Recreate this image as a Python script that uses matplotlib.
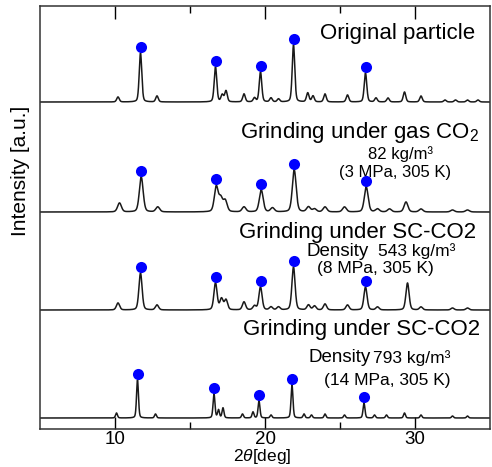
import numpy as np
import matplotlib
matplotlib.use("Agg")
import matplotlib.pyplot as plt

plt.rcParams['font.family'] = ['Liberation Sans', 'DejaVu Sans']
plt.rcParams['mathtext.fontset'] = 'custom'
plt.rcParams['mathtext.rm'] = 'Liberation Sans'
plt.rcParams['mathtext.it'] = 'Liberation Sans:italic'

# ---- data (peak tables; y in arbitrary units) ----
orig_pos = [10.2, 11.7, 12.8, 16.7, 17.15, 17.4, 18.6, 19.3, 19.7, 20.4, 20.9, 21.9, 22.85, 23.2,
            24.0, 25.5, 26.7, 27.4, 28.2, 29.3, 30.4, 32.0, 32.7, 33.5, 34.2]
orig_h = [5, 49, 6, 35, 7, 11, 8, 4, 30, 4, 3, 57, 9, 6, 8, 7, 29, 4, 4, 10, 6, 2, 2, 2, 2]
orig_base = 327
orig_w = 0.2

gas_pos = [10.3, 11.75, 12.85, 16.75, 17.05, 17.35, 18.6, 19.75, 20.5, 21.95, 22.9, 23.3, 24.0,
           25.3, 26.75, 27.5, 28.3, 29.4, 30.4, 32.5, 33.5]
gas_h = [9, 35, 5, 25, 13, 11, 5, 22, 4, 42, 5, 3, 5, 5, 25, 3, 3, 10, 3, 2, 2]
gas_base = 217
gas_w = 0.3

sc8_pos = [10.2, 11.7, 12.8, 16.7, 17.1, 17.4, 18.6, 19.3, 19.7, 20.4, 20.9, 21.9, 22.9, 23.3,
           24.0, 25.5, 26.7, 27.5, 29.5, 30.4, 32.5, 33.5]
sc8_h = [7, 37, 5, 27, 11, 10, 8, 4, 23, 3, 3, 43, 5, 4, 6, 5, 23, 3, 27, 3, 2, 2]
sc8_base = 119
sc8_w = 0.25

sc14_pos = [10.1, 11.5, 12.7, 16.6, 16.9, 17.2, 18.5, 19.2, 19.6, 20.4, 21.8, 22.6, 23.1, 24.0,
            25.3, 26.6, 27.3, 28.1, 29.3, 30.4, 32.5, 33.5]
sc14_h = [5, 38, 4, 24, 8, 10, 4, 6, 17, 3, 33, 4, 3, 4, 3, 15, 3, 3, 5, 3, 2, 2]
sc14_base = 11
sc14_w = 0.15

dots_orig = [11.7, 16.7, 19.7, 21.9, 26.7]
dots_gas = [11.75, 16.75, 19.75, 21.95, 26.75]
dots_sc8 = [11.7, 16.7, 19.7, 21.9, 26.7]
dots_sc14 = [11.5, 16.6, 19.6, 21.8, 26.6]

xticks = [10, 20, 30]


def profile(x, pos, h, w):
    y = np.zeros_like(x)
    for p, a in zip(pos, h):
        g = np.exp(-4 * np.log(2) * ((x - p) / w) ** 2)
        l = 1.0 / (1 + 4 * ((x - p) / w) ** 2)
        y += a * (0.7 * g + 0.3 * l)
    return y


x = np.linspace(5, 35, 4000)

fig = plt.figure(figsize=(4.92, 4.67), dpi=100)
ax = fig.add_axes([40 / 492, 38 / 467, 450 / 492, 423 / 467])

traces = [
    (orig_pos, orig_h, orig_base, orig_w, dots_orig),
    (gas_pos, gas_h, gas_base, gas_w, dots_gas),
    (sc8_pos, sc8_h, sc8_base, sc8_w, dots_sc8),
    (sc14_pos, sc14_h, sc14_base, sc14_w, dots_sc14),
]
for pos, h, base, w, dots in traces:
    y = base + profile(x, pos, h, w)
    ax.plot(x, y, color='#1a1a1a', lw=1.1)
    dy = np.interp(dots, x, y) + 6
    ax.plot(dots, dy, 'o', color='#0000ff', ms=8, mec='none', zorder=5)

ax.set_xlim(5, 35)
ax.set_ylim(0, 423)
ax.set_yticks([])
ax.set_xticks(xticks)
ax.set_xticks([15, 25], minor=True)
ax.tick_params(axis='x', which='major', direction='in', length=9, width=1, top=True,
               labelsize=13.5, pad=1.5)
ax.tick_params(axis='x', which='minor', direction='in', length=5, width=1, top=True)
for s in ax.spines.values():
    s.set_linewidth(1.1)
    s.set_color('#333333')

ax.set_xlabel(r'2$\it{\theta}$[deg]', fontsize=12.5)
ax.xaxis.set_label_coords(0.5 + (262 - 265) / 450, (429 - 447) / 423)
ax.set_ylabel('Intensity [a.u.]', fontsize=15)
ax.yaxis.set_label_coords(-0.022, 0.61)

ax.text(28.84, 396, 'Original particle', fontsize=16, ha='center', va='center')
ax.text(26.29, 297, r'Grinding under gas CO$_2$', fontsize=16, ha='center', va='center')
ax.text(29.04, 275, '82 kg/m³', fontsize=12, ha='center', va='center')
ax.text(28.64, 257, '(3 MPa, 305 K)', fontsize=12, ha='center', va='center')
ax.text(26.19, 197, 'Grinding under SC-CO2', fontsize=16, ha='center', va='center')
ax.text(24.83, 178, 'Density', fontsize=13.5, ha='center', va='center')
ax.text(30.1, 178, '543 kg/m³', fontsize=12.5, ha='center', va='center')
ax.text(27.35, 160, '(8 MPa, 305 K)', fontsize=12.5, ha='center', va='center')
ax.text(26.42, 99, 'Grinding under SC-CO2', fontsize=16, ha='center', va='center')
ax.text(24.97, 71, 'Density', fontsize=13.5, ha='center', va='center')
ax.text(29.77, 71, '793 kg/m³', fontsize=12.5, ha='center', va='center')
ax.text(28.18, 49, '(14 MPa, 305 K)', fontsize=12.5, ha='center', va='center')

fig.savefig('out.png', dpi=100)
